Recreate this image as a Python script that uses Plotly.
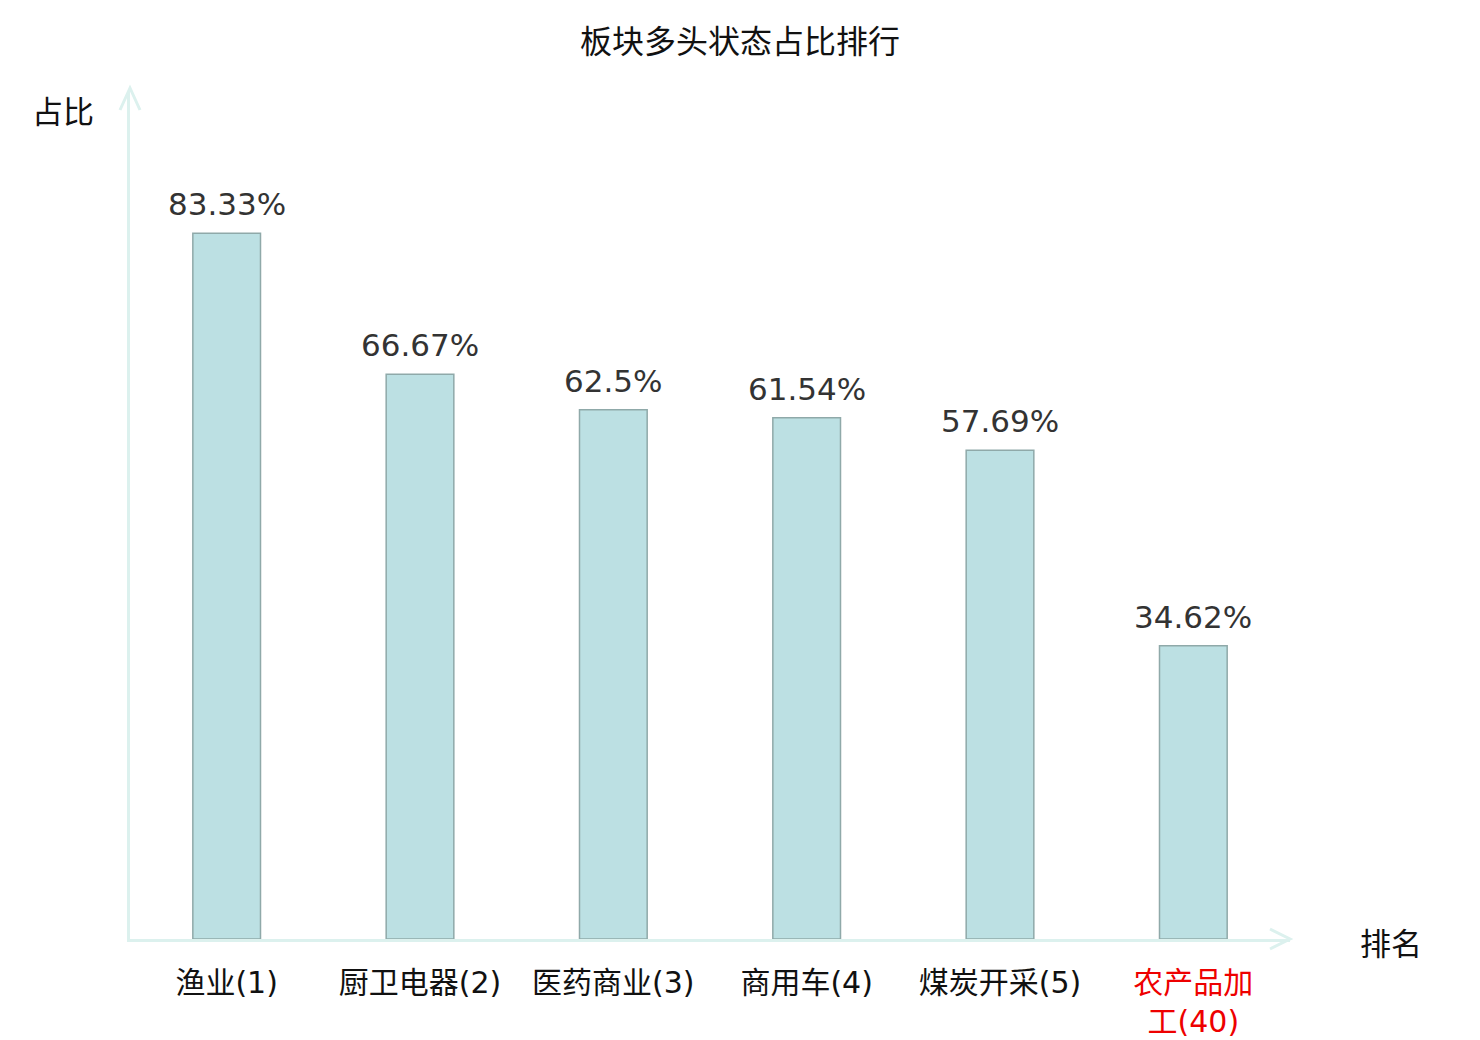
import plotly.graph_objects as go

categories = ["渔业(1)", "厨卫电器(2)", "医药商业(3)", "商用车(4)", "煤炭开采(5)", "农产品加<br>工(40)"]
values = [83.33, 66.67, 62.5, 61.54, 57.69, 34.62]
value_labels = ["83.33%", "66.67%", "62.5%", "61.54%", "57.69%", "34.62%"]
label_colors = ["#111111", "#111111", "#111111", "#111111", "#111111", "#ee0000"]

OFF = 8  # page body margin
W, H = 1480 - OFF, 1040 - OFF
# reference pixel geometry of the plot area
PL, PR, PT, PB = 130, 1290, 92, 939
L, T = PL - OFF, PT - OFF
pw, ph = PR - PL, PB - PT
R = W - L - pw
B = H - T - ph

AXIS_COLOR = "#dcf1ee"
CJK = "Noto Sans CJK SC, DejaVu Sans, sans-serif"
MIX = "DejaVu Sans, Noto Sans CJK SC, sans-serif"
LAT = "DejaVu Sans, Noto Sans, sans-serif"

fig = go.Figure()
fig.add_trace(go.Bar(
    x=categories, y=values,
    width=0.35,
    marker=dict(color="#bce0e3", line=dict(color="#8fa9a9", width=1.5)),
    hoverinfo="skip",
))

for c, v, t in zip(categories, values, value_labels):
    fig.add_annotation(x=c, y=v, text=t, showarrow=False, yanchor="bottom",
                       yshift=9, font=dict(family=LAT, size=31, color="#333333"))

tick_text = [f'<span style="color:{col}">{c}</span>' for c, col in zip(categories, label_colors)]

def px(x):
    return (x - PL) / pw

def py(y):
    return (PB - y) / ph

shapes = [
    dict(type="path", xref="paper", yref="paper",
         path=f"M {px(120)} {py(110)} L {px(130)} {py(88)} L {px(140)} {py(110)}",
         line=dict(color=AXIS_COLOR, width=3)),
    dict(type="path", xref="paper", yref="paper",
         path=f"M {px(1270)} {py(929)} L {px(1290)} {py(939)} L {px(1270)} {py(949)}",
         line=dict(color=AXIS_COLOR, width=3)),
]

fig.update_layout(
    width=W, height=H,
    margin=dict(l=L, r=R, t=T, b=B),
    plot_bgcolor="white", paper_bgcolor="white",
    showlegend=False,
    title=dict(text="板块多头状态占比排行", x=(740 - OFF) / W, xanchor="center",
               y=1 - (42 - OFF) / H, yanchor="middle",
               font=dict(family=CJK, size=32, color="#111111")),
    xaxis=dict(tickmode="array", tickvals=categories, ticktext=tick_text,
               showline=True, linecolor=AXIS_COLOR, linewidth=3, automargin=False,
               showgrid=False, zeroline=False, ticks="", ticklabelstandoff=15,
               tickfont=dict(family=MIX, size=30, color="#111111")),
    yaxis=dict(range=[0, 100], showline=True, linecolor=AXIS_COLOR, linewidth=3,
               automargin=False,
               showgrid=False, zeroline=False, showticklabels=False, ticks=""),
    shapes=shapes,
)

fig.add_annotation(xref="paper", yref="paper", x=px(63), y=py(110), text="占比",
                   showarrow=False, xanchor="center", yanchor="middle",
                   font=dict(family=CJK, size=31, color="#111111"))
fig.add_annotation(xref="paper", yref="paper", x=px(1391), y=py(941), text="排名",
                   showarrow=False, xanchor="center", yanchor="middle",
                   font=dict(family=CJK, size=31, color="#111111"))

fig.write_html("out.html")
